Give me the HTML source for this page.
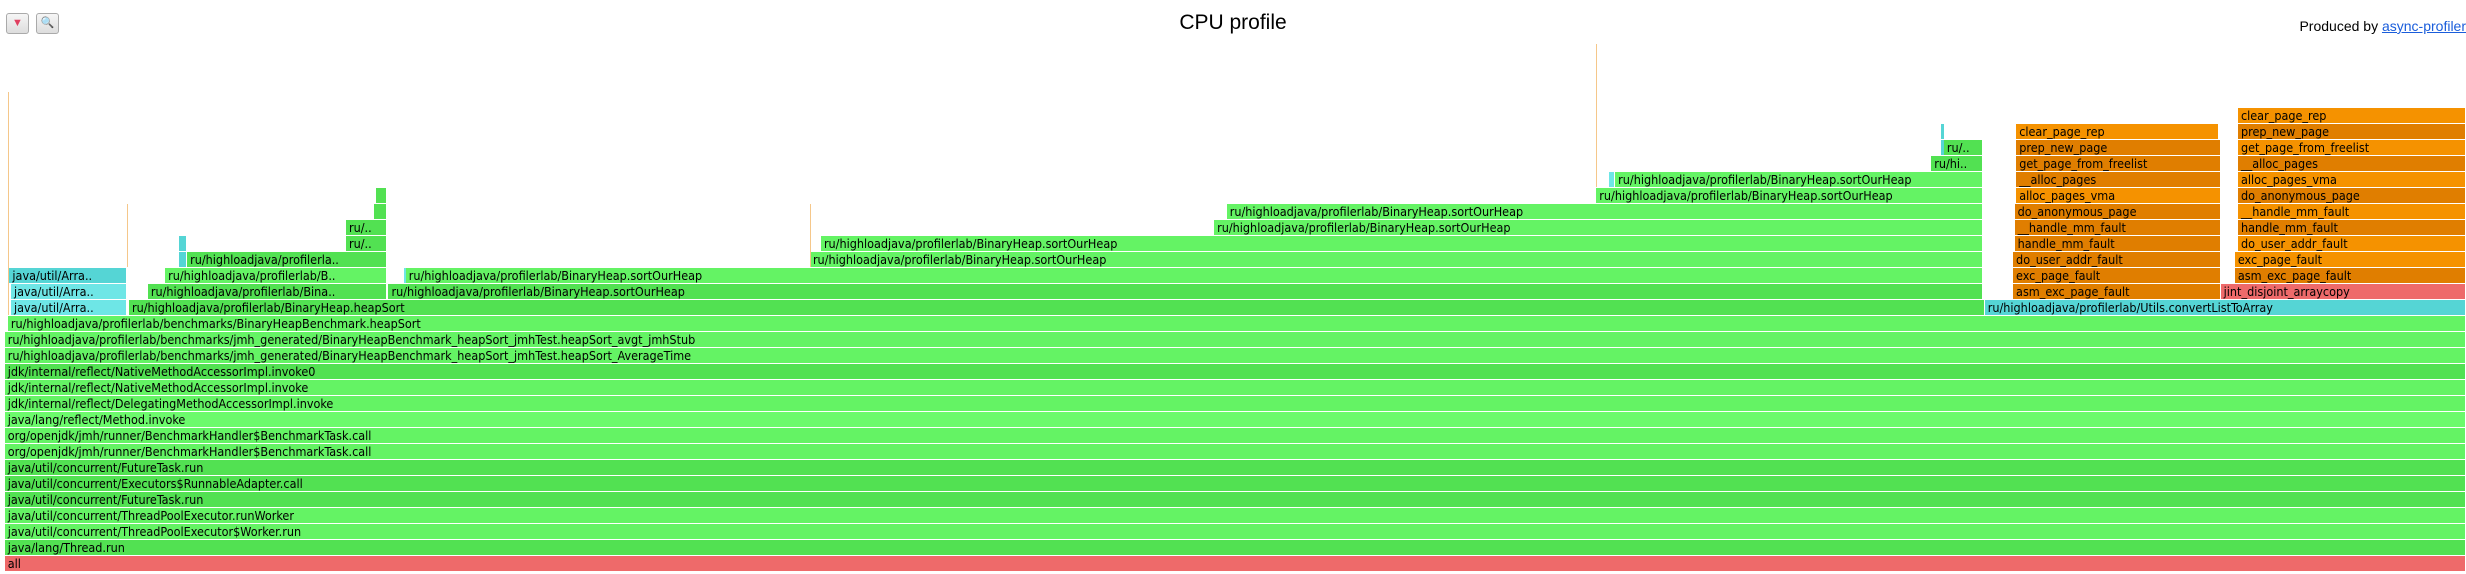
<!DOCTYPE html>
<html><head><meta charset="utf-8">
<style>
body{margin:0;background:#fff;width:2466px;height:574px;overflow:hidden;position:relative;font-family:"Liberation Sans","DejaVu Sans",sans-serif;}
#title{position:absolute;left:0;width:2466px;top:11px;text-align:center;font-size:21px;color:#000;}
#produced{position:absolute;right:0;top:18px;font-size:14px;color:#000;}
#produced a{color:#1a5ddb;text-decoration:underline;}
.btn{position:absolute;top:13px;width:21px;height:19px;border:1px solid #aaa;border-radius:3px;background:linear-gradient(#f6f6f6,#ddd);font-size:11px;text-align:center;line-height:19px;}
.fr{position:absolute;height:15px;overflow:hidden;white-space:nowrap;font-size:12.5px;line-height:16px;color:#000;box-sizing:border-box;padding-left:3px;font-family:"DejaVu Sans Condensed","DejaVu Sans",sans-serif;}
</style></head><body>
<div class="btn" style="left:6px;color:#e04060">▼</div>
<div class="btn" style="left:36px;color:#3060c0">🔍</div>
<div id="title">CPU profile</div>
<div id="produced">Produced by <a>async-profiler</a></div>
<div id="flame"></div>
<script>
// frame starts/ends in sample units (total width 1568), stack depth, color key, label
const frameStart=[3,3,3,3,3,3,3,3,3,3,3,3,3,3,3,5,
7,82,1262, 7,94,247,1280,1412, 6,105,258,1280,1421,
114,119,515,1280,1421, 114,220,522,1281,1423, 220,772,1281,1423,
238,780,1281,1423, 239,1015,1282,1423, 1023,1027,1282,1423,
1228,1282,1423, 1234,1236,1282,1423, 1234,1282,1423, 1423,
5,81,515,1015,257];
const frameEnd=[1568,1568,1568,1568,1568,1568,1568,1568,1568,1568,1568,1568,1568,1568,1568,1568,
81,1262,1568, 81,246,1261,1412,1568, 81,246,1261,1412,1568,
119,246,1261,1412,1568, 119,246,1261,1412,1568, 246,1261,1412,1568,
246,1261,1412,1568, 246,1261,1412,1568, 1027,1261,1412,1568,
1261,1412,1568, 1236,1261,1412,1568, 1236,1411,1568, 1568,
6.2,82,516,1016,258.5];
const frameDepth=[0,1,2,3,4,5,6,7,8,9,10,11,12,13,14,15,
16,16,16, 17,17,17,17,17, 18,18,18,18,18,
19,19,19,19,19, 20,20,20,20,20, 21,21,21,21,
22,22,22,22, 23,23,23,23, 24,24,24,24,
25,25,25, 26,26,26,26, 27,27,27, 28,
29,22,22,32,18];
// depth where thin tall stacks start (for single frames, equals depth)
const frameBase=[0,1,2,3,4,5,6,7,8,9,10,11,12,13,14,15,
16,16,16, 17,17,17,17,17, 18,18,18,18,18,
19,19,19,19,19, 20,20,20,20,20, 21,21,21,21,
22,22,22,22, 23,23,23,23, 24,24,24,24,
25,25,25, 26,26,26,26, 27,27,27, 28,
16,19,19,24,18];
const frameColor=["r","g2","g1","g1","g2","g2","g2","g1","g1","g3","g1","g1","g2","g1","g1","g1",
"c2","g2","c1", "c2","g2","g2","o2","r", "c1","g1","g1","o2","o2",
"c1","g2","g1","o2","o1", "c1","g2","g1","o2","o1", "g2","g1","o2","o2",
"g2","g1","o2","o1", "g2","g1","o1","o2", "c2","g1","o2","o1",
"g2","o2","o2", "c1","g2","o2","o1", "c1","o1","o2", "o1",
"t","t","t","t","c2"];
const frameLabel=["all","java/lang/Thread.run","java/util/concurrent/ThreadPoolExecutor$Worker.run","java/util/concurrent/ThreadPoolExecutor.runWorker","java/util/concurrent/FutureTask.run","java/util/concurrent/Executors$RunnableAdapter.call","java/util/concurrent/FutureTask.run","org/openjdk/jmh/runner/BenchmarkHandler$BenchmarkTask.call","org/openjdk/jmh/runner/BenchmarkHandler$BenchmarkTask.call","java/lang/reflect/Method.invoke","jdk/internal/reflect/DelegatingMethodAccessorImpl.invoke","jdk/internal/reflect/NativeMethodAccessorImpl.invoke","jdk/internal/reflect/NativeMethodAccessorImpl.invoke0","ru/highloadjava/profilerlab/benchmarks/jmh_generated/BinaryHeapBenchmark_heapSort_jmhTest.heapSort_AverageTime","ru/highloadjava/profilerlab/benchmarks/jmh_generated/BinaryHeapBenchmark_heapSort_jmhTest.heapSort_avgt_jmhStub","ru/highloadjava/profilerlab/benchmarks/BinaryHeapBenchmark.heapSort",
"java/util/Arra..","ru/highloadjava/profilerlab/BinaryHeap.heapSort","ru/highloadjava/profilerlab/Utils.convertListToArray",
"java/util/Arra..","ru/highloadjava/profilerlab/Bina..","ru/highloadjava/profilerlab/BinaryHeap.sortOurHeap","asm_exc_page_fault","jint_disjoint_arraycopy",
"java/util/Arra..","ru/highloadjava/profilerlab/B..","ru/highloadjava/profilerlab/BinaryHeap.sortOurHeap","exc_page_fault","asm_exc_page_fault",
"","ru/highloadjava/profilerla..","ru/highloadjava/profilerlab/BinaryHeap.sortOurHeap","do_user_addr_fault","exc_page_fault",
"","ru/..","ru/highloadjava/profilerlab/BinaryHeap.sortOurHeap","handle_mm_fault","do_user_addr_fault",
"ru/..","ru/highloadjava/profilerlab/BinaryHeap.sortOurHeap","__handle_mm_fault","handle_mm_fault",
"","ru/highloadjava/profilerlab/BinaryHeap.sortOurHeap","do_anonymous_page","__handle_mm_fault",
"","ru/highloadjava/profilerlab/BinaryHeap.sortOurHeap","alloc_pages_vma","do_anonymous_page",
"","ru/highloadjava/profilerlab/BinaryHeap.sortOurHeap","__alloc_pages","alloc_pages_vma",
"ru/hi..","get_page_from_freelist","__alloc_pages",
"","ru/..","prep_new_page","get_page_from_freelist",
"","clear_page_rep","prep_new_page","clear_page_rep",
"","","","",""];
const colors={r:"#ee6a6a",g1:"#64f364",g2:"#52e152",g3:"#6cfa6c",c1:"#55d5d5",c2:"#6ee6e6",o1:"#f59200",o2:"#e07e00",t:"#f5c78a"};
const scale=2466/1568;
function xPos(v){return v*scale;}
function yPos(d){return 556-16*d;}
const flame=document.getElementById('flame');
for(let i=0;i<frameStart.length;i++){
  const el=document.createElement('div');
  el.className='fr';
  
  
  const x1=xPos(frameStart[i]), x2=xPos(frameEnd[i]);
  el.style.left=x1+'px';
  el.style.width=Math.max(1,x2-x1-1)+'px';
  el.style.top=yPos(frameDepth[i])+'px';
  const span=frameDepth[i]-frameBase[i]+1;
  el.style.height=(16*span-1)+'px';
  if(frameColor[i]==='t'||frameColor[i]==='c2'&&!frameLabel[i]){el.style.padding='0';}
  el.style.background=colors[frameColor[i]];
  el.textContent=frameLabel[i];
  flame.appendChild(el);
}
</script>
</body></html>
